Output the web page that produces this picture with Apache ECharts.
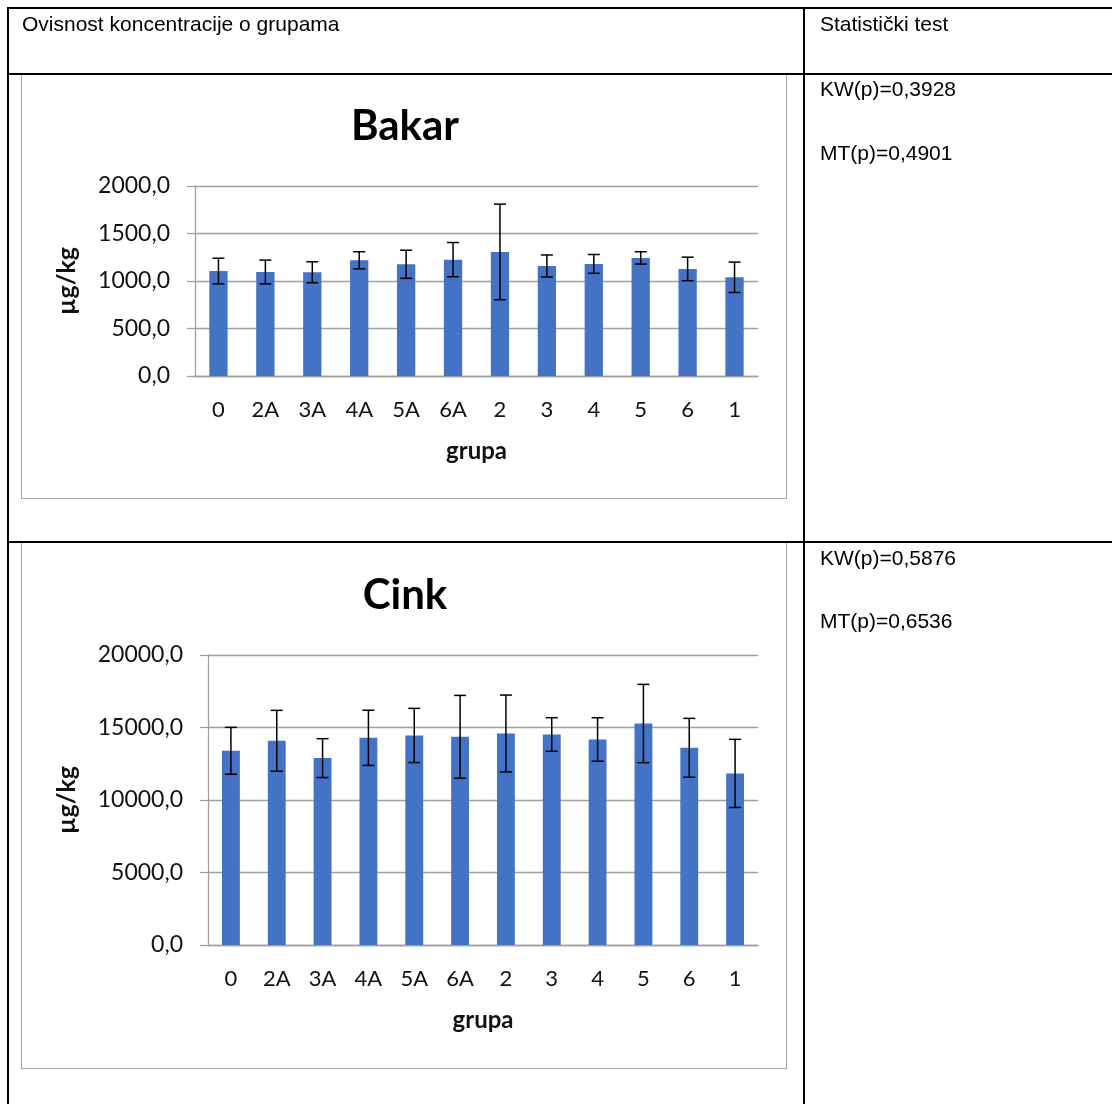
<!DOCTYPE html>
<html>
<head>
<meta charset="utf-8">
<script src="https://cdn.jsdelivr.net/npm/echarts@6/dist/echarts.min.js"></script>
<style>
  html, body { margin: 0; padding: 0; background: #fff; }
  body { width: 1112px; height: 1104px; position: relative; overflow: hidden; }
  #chart { position: absolute; left: 0; top: 0; width: 1112px; height: 1104px; }
  .ln { position: absolute; background: #000; }
  .box { position: absolute; border: 1.5px solid #a6a6a6; box-sizing: border-box; }
  .txt { position: absolute; font-family: "Liberation Sans", Arial, sans-serif; font-size: 21px; color: #000; white-space: nowrap; line-height: 1; }
</style>
</head>
<body>
<div class="box" style="left:21px;top:74px;width:766px;height:425px;"></div>
<div class="box" style="left:21px;top:542px;width:766px;height:527px;"></div>
<div id="chart"></div>
<div class="ln" style="left:7px;top:7px;width:1105px;height:2px;"></div>
<div class="ln" style="left:7px;top:7px;width:2px;height:1097px;"></div>
<div class="ln" style="left:803px;top:7px;width:2px;height:1097px;"></div>
<div class="ln" style="left:7px;top:73px;width:1105px;height:2px;"></div>
<div class="ln" style="left:7px;top:541px;width:1105px;height:2px;"></div>
<div class="txt" style="left:22px;top:13px;">Ovisnost koncentracije o grupama</div>
<div class="txt" style="left:820px;top:13px;">Statistički test</div>
<div class="txt" style="left:820px;top:78px;">KW(p)=0,3928</div>
<div class="txt" style="left:820px;top:142px;">MT(p)=0,4901</div>
<div class="txt" style="left:820px;top:547px;">KW(p)=0,5876</div>
<div class="txt" style="left:820px;top:610px;">MT(p)=0,6536</div>
<script>
// ---- data ----
const categories = ['0', '2A', '3A', '4A', '5A', '6A', '2', '3', '4', '5', '6', '1'];
const bakarMean = [1105, 1095, 1092, 1218, 1176, 1225, 1306, 1158, 1180, 1243, 1127, 1039];
const bakarSD   = [135, 125, 110, 90, 148, 180, 503, 116, 99, 65, 124, 160];
const cinkMean  = [13394, 14083, 12890, 14289, 14450, 14358, 14587, 14518, 14174, 15275, 13601, 11835];
const cinkSD    = [1617, 2100, 1340, 1904, 1870, 2855, 2650, 1158, 1500, 2700, 2030, 2350];
const bakarTicks = [0, 500, 1000, 1500, 2000];
const cinkTicks  = [0, 5000, 10000, 15000, 20000];
const titles = ['Bakar', 'Cink'];
const xName = 'grupa';
const yName = 'µg/kg';

// ---- chart ----
const fmt = v => v.toFixed(1).replace('.', ',');
const errData = (m, s) => m.map((v, i) => [i, v - s[i], v + s[i]]);
function errRender(params, api) {
  const x = api.value(0);
  const lo = api.coord([x, api.value(1)]);
  const hi = api.coord([x, api.value(2)]);
  const w = 6;
  const style = { stroke: '#000', lineWidth: 1.5 };
  return {
    type: 'group',
    children: [
      { type: 'line', shape: { x1: lo[0], y1: lo[1], x2: hi[0], y2: hi[1] }, style },
      { type: 'line', shape: { x1: lo[0] - w, y1: lo[1], x2: lo[0] + w, y2: lo[1] }, style },
      { type: 'line', shape: { x1: hi[0] - w, y1: hi[1], x2: hi[0] + w, y2: hi[1] }, style }
    ]
  };
}
const font = 'Lato, "Open Sans", sans-serif';
const gridColor = '#a0a0a0';

function xAxis(idx) {
  return {
    type: 'category', gridIndex: idx, data: categories,
    axisLine: { show: true, lineStyle: { color: gridColor, width: 1.3 } },
    axisTick: { show: false },
    axisLabel: { fontFamily: font, fontSize: 22, color: '#111', margin: 23, interval: 0 },
    name: xName, nameLocation: 'middle', nameGap: 63,
    nameTextStyle: { fontFamily: font, fontSize: 24, fontWeight: 'bold', color: '#111' }
  };
}
function yAxis(idx, ticks, gap) {
  return {
    type: 'value', gridIndex: idx,
    min: ticks[0], max: ticks[ticks.length - 1], interval: ticks[1] - ticks[0],
    axisLine: { show: true, lineStyle: { color: gridColor, width: 1.3 } },
    axisTick: { show: true, inside: false, length: 8, lineStyle: { color: gridColor, width: 1.3 } },
    splitLine: { show: true, lineStyle: { color: gridColor, width: 1.3 } },
    axisLabel: { fontFamily: font, fontSize: 23, color: '#111', margin: 25, formatter: fmt },
    name: yName, nameLocation: 'middle', nameGap: gap, nameRotate: 90,
    nameTextStyle: { fontFamily: font, fontSize: 25, fontWeight: 'bold', color: '#111' }
  };
}

const chart = echarts.init(document.getElementById('chart'), null, { renderer: 'canvas' });
chart.setOption({
  animation: false,
  backgroundColor: 'transparent',
  graphic: [
    { type: 'text', x: 405, y: 126,
      style: { text: titles[0], font: 'bold 42px Lato, sans-serif', fill: '#000', textAlign: 'center', textVerticalAlign: 'middle' } },
    { type: 'text', x: 405, y: 595,
      style: { text: titles[1], font: 'bold 42px Lato, sans-serif', fill: '#000', textAlign: 'center', textVerticalAlign: 'middle' } }
  ],
  grid: [
    { left: 195, top: 186, width: 563, height: 190 },
    { left: 208, top: 655, width: 550, height: 290 }
  ],
  xAxis: [xAxis(0), xAxis(1)],
  yAxis: [yAxis(0, bakarTicks, 116), yAxis(1, cinkTicks, 129)],
  series: [
    { type: 'bar', xAxisIndex: 0, yAxisIndex: 0, data: bakarMean, barWidth: '39%',
      itemStyle: { color: '#4472C4' } },
    { type: 'custom', xAxisIndex: 0, yAxisIndex: 0, data: errData(bakarMean, bakarSD),
      renderItem: errRender, encode: { x: 0, y: [1, 2] }, z: 5 },
    { type: 'bar', xAxisIndex: 1, yAxisIndex: 1, data: cinkMean, barWidth: '39%',
      itemStyle: { color: '#4472C4' } },
    { type: 'custom', xAxisIndex: 1, yAxisIndex: 1, data: errData(cinkMean, cinkSD),
      renderItem: errRender, encode: { x: 0, y: [1, 2] }, z: 5 }
  ]
});
</script>
</body>
</html>
